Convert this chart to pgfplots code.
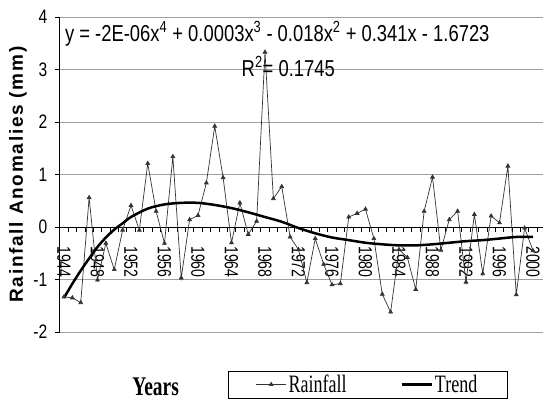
\documentclass[border=0pt]{standalone}
\usepackage{fontspec}
\setmainfont{Liberation Sans}
\newfontfamily\narrowsans[FakeStretch=0.8]{Liberation Sans}
\newfontfamily\yearfont[FakeStretch=0.74]{Liberation Sans}
\newfontfamily\narrowserif[FakeStretch=0.72]{Liberation Serif}
\newfontfamily\labelfont[LetterSpace=9]{Liberation Sans}
\usepackage{pgfplots}
\usepackage{pgfplotstable}
\pgfplotsset{compat=1.18}
\definecolor{raingray}{HTML}{333333}

% rainfall anomalies (mm)
\pgfplotstableread{
year rain
1944 -1.33
1945 -1.35
1946 -1.44
1947 0.56
1948 -1.01
1949 -0.31
1950 -0.81
1951 -0.06
1952 0.41
1953 -0.06
1954 1.21
1955 0.30
1956 -0.31
1957 1.34
1958 -0.97
1959 0.14
1960 0.22
1961 0.84
1962 1.92
1963 0.94
1964 -0.30
1965 0.46
1966 -0.14
1967 0.11
1968 3.33
1969 0.54
1970 0.77
1971 -0.19
1972 -0.43
1973 -1.06
1974 -0.22
1975 -0.71
1976 -1.10
1977 -1.08
1978 0.19
1979 0.26
1980 0.34
1981 -0.22
1982 -1.28
1983 -1.62
1984 -0.43
1985 -0.58
1986 -1.19
1987 0.30
1988 0.95
1989 -0.44
1990 0.14
1991 0.30
1992 -1.05
1993 0.24
1994 -0.89
1995 0.21
1996 0.08
1997 1.16
1998 -1.29
1999 -0.02
2000 -0.45
}\raindata

% 4th order polynomial trend
\pgfplotstableread{
year trend
1944 -1.35
1945 -1.08
1946 -0.83
1947 -0.60
1948 -0.38
1949 -0.20
1950 -0.05
1951 0.07
1952 0.19
1954 0.35
1956 0.43
1958 0.46
1960 0.46
1962 0.42
1964 0.36
1966 0.28
1968 0.19
1970 0.10
1972 -0.02
1974 -0.12
1976 -0.20
1978 -0.25
1980 -0.30
1982 -0.33
1984 -0.35
1986 -0.35
1988 -0.33
1990 -0.30
1992 -0.27
1994 -0.25
1996 -0.22
1998 -0.19
2000 -0.19
}\trenddata

\begin{document}
\begin{tikzpicture}
\useasboundingbox (0,0) rectangle (543pt,403pt);
\begin{axis}[
  at={(59.8pt,71pt)}, anchor=south west,
  scale only axis, width=486.6pt, height=315pt,
  xmin=1943.5, xmax=2001.6, ymin=-2, ymax=4,
  axis x line=middle, axis y line=left,
  axis line style={-, black, line width=0.8pt},
  /pgf/number format/assume math mode=true,
  xtick={1944,1948,...,2000},
  minor xtick={1943.5,1944.5,...,2001.5},
  major x tick style={draw=none},
  minor x tick style={black, line width=0.7pt},
  ytick={-2,-1,...,4},
  y tick style={black, line width=0.7pt},
  tick align=outside,
  major tick length=5pt, minor tick length=5pt,
  ymajorgrids,
  grid style={gray!75, line width=0.7pt},
  xticklabel style={font=\yearfont\fontsize{19}{20}\selectfont, yshift=-14pt, rotate=-90, anchor=west,
    inner sep=0pt, /pgf/number format/1000 sep={}},
  yticklabel style={font=\narrowsans\fontsize{19.5}{20}\selectfont, xshift=-4pt},
  every axis y label/.style={at={(axis description cs:-0.086,0.5)}, rotate=90, anchor=center,
    font=\labelfont\bfseries\fontsize{19}{20}\selectfont},
  every axis x label/.style={at={(axis description cs:0.197,-0.1746)}, anchor=center,
    font=\narrowserif\bfseries\fontsize{27}{30}\selectfont},
  ylabel={Rainfall Anomalies (mm)},
  xlabel={Years},
  legend columns=2,
  legend style={at={(axis description cs:0.6325,-0.1667)}, anchor=center,
    draw=black, line width=0.6pt, inner xsep=28pt, inner ysep=2pt,
    font=\narrowserif\fontsize{25}{28}\selectfont,
    /tikz/every even column/.append style={column sep=52pt}},
  legend image code/.code={\draw[mark repeat=2, mark phase=2, #1]
    plot coordinates {(0pt,0pt) (15pt,0pt) (30pt,0pt)};},
  clip=false,
]
\addplot[raingray, line width=0.7pt, mark=triangle*, mark size=2.2pt]
  table[x=year, y=rain] {\raindata};
\addlegendentry{Rainfall}
\addplot[black, line width=2.5pt, smooth]
  table[x=year, y=trend] {\trenddata};
\addlegendentry{Trend}

\node[anchor=base west, inner sep=0pt, font=\narrowsans\fontsize{23}{26}\selectfont]
  at (axis cs:1944.1,3.53)
  {y = -2E-06x\textsuperscript{4} + 0.0003x\textsuperscript{3} - 0.018x\textsuperscript{2} + 0.341x - 1.6723};
\node[anchor=base west, inner sep=0pt, font=\narrowsans\fontsize{23}{26}\selectfont]
  at (axis cs:1965.2,2.86) {R\textsuperscript{2}= 0.1745};
\end{axis}
\end{tikzpicture}
\end{document}
